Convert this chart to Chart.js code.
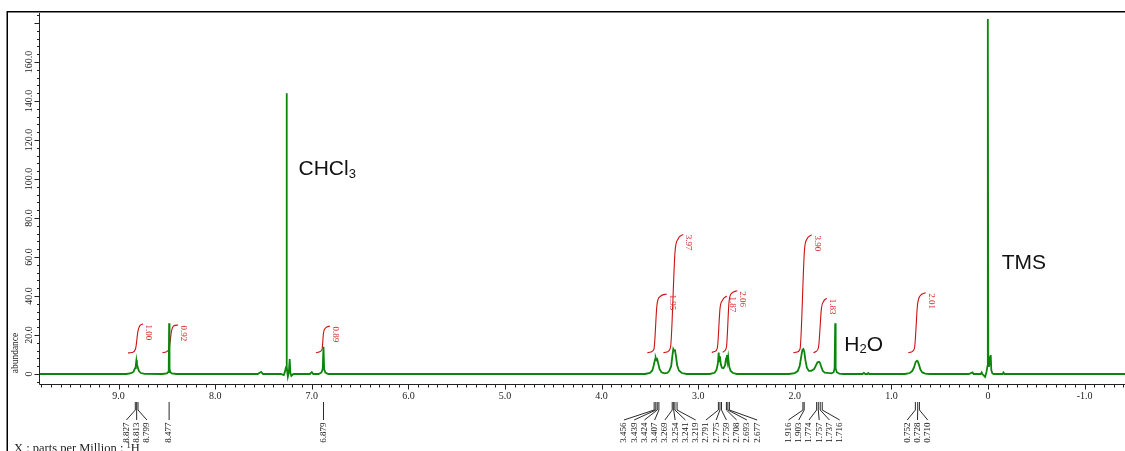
<!DOCTYPE html>
<html><head><meta charset="utf-8">
<script src="https://cdn.jsdelivr.net/npm/chart.js@4.4.1/dist/chart.umd.min.js"></script>
<style>html,body{margin:0;padding:0;background:#fff;overflow:hidden}canvas{display:block}</style>
</head><body>
<canvas id="c" width="1125" height="451"></canvas>
<script>
// ---- data ----
const xRange = [9.824, -1.418];           // ppm, left -> right
const yRange = [-5.13, 185.1];            // abundance
const xMajorTicks = [9, 8, 7, 6, 5, 4, 3, 2, 1, 0, -1];
const xTickLabels = ["9.0","8.0","7.0","6.0","5.0","4.0","3.0","2.0","1.0","0","-1.0"];
const yMajorTicks = [0, 20, 40, 60, 80, 100, 120, 140, 160];
const yTickLabels = ["0","20.0","40.0","60.0","80.0","100.0","120.0","140.0","160.0"];

// spectrum trace [ppm, abundance]
const spectrum = [
[9.82,0],[8.92,0],[8.87,0.4],[8.845,1.2],[8.83,3],[8.822,4.5],[8.816,7],[8.81,4.8],[8.80,3.2],[8.79,1.5],[8.77,0.5],[8.73,0.1],[8.55,0],
[8.50,0.3],[8.488,1],[8.481,3],[8.477,26],[8.473,3],[8.466,1],[8.45,0.3],[8.40,0],
[7.56,0],[7.525,1.1],[7.505,0],
[7.32,0],[7.29,-0.6],[7.278,1.2],[7.267,3.5],[7.262,144],[7.257,3.5],[7.248,-1.4],[7.238,0.8],[7.229,7.7],[7.222,0.6],[7.212,-1.0],[7.19,0],
[7.02,0],[7.0,1],[6.985,0],
[6.93,0],[6.90,0.8],[6.887,2.5],[6.879,14],[6.872,2.5],[6.86,0.7],[6.83,0],
[3.55,0],[3.50,0.6],[3.475,1.8],[3.46,4.5],[3.447,7.5],[3.44,8.4],[3.432,7.2],[3.424,7.6],[3.412,5],[3.40,2.5],[3.38,0.9],[3.35,0.3],
[3.32,0.6],[3.30,1.5],[3.28,4],[3.268,9],[3.258,12.8],[3.25,12],[3.242,12.6],[3.23,9],[3.218,4.5],[3.20,1.8],[3.17,0.5],[3.12,0],
[2.88,0],[2.83,0.6],[2.81,2.2],[2.796,5.5],[2.788,11],[2.782,6.5],[2.775,9],[2.766,5],[2.755,3.2],[2.738,3],
[2.722,4.5],[2.712,8],[2.703,9.7],[2.697,6.5],[2.69,8.8],[2.68,4],[2.665,1.6],[2.64,0.5],[2.60,0],
[2.06,0],[2.0,0.5],[1.97,1.5],[1.95,4],[1.935,8.5],[1.922,12.3],[1.912,12.8],[1.902,11.5],[1.89,7],[1.875,3.2],[1.855,1.6],
[1.83,1.6],[1.80,2.5],[1.78,4.5],[1.765,6],[1.75,6.3],[1.74,5.8],[1.725,3.5],[1.71,1.5],[1.69,0.7],
[1.62,0.3],[1.598,0.9],[1.588,3],[1.582,26],[1.577,3],[1.566,0.9],[1.54,0.2],[1.50,0],
[1.30,0],[1.285,0.6],[1.27,0],[1.25,0],[1.24,0.5],[1.23,0],
[0.86,0],[0.81,0.5],[0.785,1.5],[0.765,3.5],[0.75,6],[0.738,6.8],[0.728,6.6],[0.715,4.8],[0.70,2.3],[0.68,0.8],[0.65,0.2],[0.60,0],
[0.20,0],[0.16,0.8],[0.15,0],[0.075,0],[0.066,0.8],[0.058,0],[0.03,-1.5],[0.015,1.2],[0.006,4],[0.002,182],[-0.003,4],[-0.01,8],[-0.018,6.5],[-0.028,9.7],[-0.034,2],[-0.045,0.3],[-0.06,0],[-0.15,0],[-0.16,0.8],[-0.17,0],[-1.42,0]
];

// integral curves [ppm, abundance]
const integralCurves = [
[[8.903,10.8],[8.861,11.0],[8.825,12.8],[8.799,22.1],[8.778,24.9],[8.747,25.6]],
[[8.546,10.9],[8.509,11.3],[8.478,12.8],[8.452,22.1],[8.431,24.6],[8.385,25.1]],
[[6.957,10.9],[6.925,11.3],[6.894,12.6],[6.879,21.0],[6.858,23.6],[6.812,24.6]],
[[3.527,10.9],[3.489,11.3],[3.458,12.8],[3.427,35.4],[3.395,39.7],[3.326,41.0]],
[[3.361,10.9],[3.323,11.3],[3.287,13.6],[3.240,62.6],[3.209,69.2],[3.154,71.6]],
[[2.860,11.1],[2.831,11.5],[2.802,13.3],[2.774,33.8],[2.748,37.9],[2.705,40.0]],
[[2.746,11.1],[2.728,11.8],[2.707,14.1],[2.681,36.9],[2.655,41.3],[2.595,42.7]],
[[2.016,10.9],[1.977,11.3],[1.946,12.8],[1.900,63.6],[1.874,69.2],[1.825,71.3]],
[[1.808,10.9],[1.781,11.5],[1.755,13.6],[1.724,33.8],[1.703,37.2],[1.670,38.8]],
[[0.825,10.9],[0.792,11.3],[0.761,13.3],[0.730,35.4],[0.704,40.0],[0.645,41.7]]
];
const integralValues = ["1.00","0.92","0.89","1.95","3.97","1.87","2.06","3.90","1.83","2.01"];

// peak-pick labels (ppm), grouped as fanned on the plot
const peakGroups = [
["8.827","8.813","8.799"],
["8.477"],
["6.879"],
["3.456","3.439","3.424","3.407","3.269","3.254","3.241","3.219","2.791","2.775","2.759","2.708","2.693","2.677"],
["1.916","1.903","1.774","1.757","1.737","1.716"],
["0.752","0.728","0.710"]
];

// solvent / reference labels
const solventLabels = [
  {main:"CHCl", sub:"3", rest:"", ppm:7.138, val:102},
  {main:"H", sub:"2", rest:"O", ppm:1.488, val:11.8},
  {main:"TMS", sub:"", rest:"", ppm:-0.142, val:53.7}
];

// ---- styles ----
const GREEN = "#0b860b";
const RED = "#cc1111";
const SERIF = "'Liberation Serif', 'DejaVu Serif', serif";
const SANS = "'Liberation Sans', Arial, sans-serif";

const decor = {
  id: 'decor',
  afterDraw(chart) {
    const ctx = chart.ctx, xs = chart.scales.x, ys = chart.scales.y, ca = chart.chartArea;
    ctx.save();
    // frame
    ctx.strokeStyle = "#000"; ctx.lineWidth = 1.5;
    ctx.beginPath(); ctx.moveTo(7.25, 451); ctx.lineTo(7.25, 11.75); ctx.lineTo(1125, 11.75); ctx.stroke();
    // axes lines
    ctx.strokeStyle = "#222"; ctx.lineWidth = 1;
    const axY = ca.bottom + 0.5, axX = ca.left + 0.5;
    ctx.beginPath(); ctx.moveTo(axX, ca.top); ctx.lineTo(axX, axY); ctx.lineTo(ca.right, axY); ctx.stroke();
    // y ticks
    ctx.beginPath();
    for (let k = -1; k <= 46; k++) {
      const v = 4 * k; const py = Math.round(ys.getPixelForValue(v)) + 0.5;
      if (py < ca.top || py > ca.bottom + 1) continue;
      const len = (v % 20 === 0) ? 5 : 2.5;
      ctx.moveTo(axX, py); ctx.lineTo(axX - len, py);
    }
    // x ticks
    for (let k = -14; k <= 98; k++) {
      const px = Math.round(xs.getPixelForValue(k / 10)) + 0.5;
      if (px < ca.left || px > ca.right) continue;
      const len = (k % 10 === 0) ? 5 : 3;
      ctx.moveTo(px, axY); ctx.lineTo(px, axY + len);
    }
    ctx.stroke();
    // tick labels
    ctx.fillStyle = "#222"; ctx.font = "10px " + SERIF;
    ctx.textAlign = "center"; ctx.textBaseline = "middle";
    xMajorTicks.forEach((v, i) => ctx.fillText(xTickLabels[i], xs.getPixelForValue(v), 396.5));
    yMajorTicks.forEach((v, i) => {
      ctx.save(); ctx.translate(29.5, ys.getPixelForValue(v)); ctx.rotate(-Math.PI / 2);
      ctx.fillText(yTickLabels[i], 0, 0); ctx.restore();
    });
    // y title
    ctx.save(); ctx.translate(15, 353); ctx.rotate(-Math.PI / 2);
    ctx.font = "9.5px " + SERIF; ctx.fillText("abundance", 0, 0); ctx.restore();
    // x title
    ctx.textAlign = "left"; ctx.textBaseline = "alphabetic"; ctx.font = "12.5px " + SERIF;
    let tx = 14; const tb = 451.6;
    const t1 = "X : parts per Million : ";
    ctx.fillText(t1, tx, tb); tx += ctx.measureText(t1).width;
    ctx.font = "8.5px " + SERIF; ctx.fillText("1", tx, tb - 4); tx += ctx.measureText("1").width;
    ctx.font = "12.5px " + SERIF; ctx.fillText("H", tx, tb);
    // integral labels
    ctx.fillStyle = "#d42a2a"; ctx.font = "9px " + SERIF;
    ctx.textAlign = "left"; ctx.textBaseline = "middle";
    integralCurves.forEach((c, i) => {
      const last = c[c.length - 1];
      const px = xs.getPixelForValue(last[0]) + 5.5, py = ys.getPixelForValue(last[1]) + 0.5;
      ctx.save(); ctx.translate(px, py); ctx.rotate(Math.PI / 2);
      ctx.fillText(integralValues[i], 0, 0); ctx.restore();
    });
    // peak labels
    ctx.strokeStyle = "#111"; ctx.lineWidth = 0.9; ctx.fillStyle = "#111";
    ctx.font = "9px " + SERIF; ctx.textAlign = "right"; ctx.textBaseline = "middle";
    peakGroups.forEach(g => {
      const pxs = g.map(s => xs.getPixelForValue(parseFloat(s)));
      const mean = pxs.reduce((a, b) => a + b, 0) / pxs.length;
      g.forEach((s, i) => {
        const lx = mean + (i - (g.length - 1) / 2) * 10.25;
        ctx.beginPath(); ctx.moveTo(pxs[i], 402); ctx.lineTo(pxs[i], 410); ctx.lineTo(lx, 420); ctx.stroke();
        ctx.save(); ctx.translate(lx, 422.5); ctx.rotate(-Math.PI / 2);
        ctx.fillText(s, 0, 0); ctx.restore();
      });
    });
    // solvent labels
    ctx.fillStyle = "#111"; ctx.textAlign = "left"; ctx.textBaseline = "alphabetic";
    solventLabels.forEach(l => {
      let x = xs.getPixelForValue(l.ppm); const b = ys.getPixelForValue(l.val);
      ctx.font = "21px " + SANS; ctx.fillText(l.main, x, b); x += ctx.measureText(l.main).width;
      if (l.sub) { ctx.font = "13px " + SANS; ctx.fillText(l.sub, x, b + 2.5); x += ctx.measureText(l.sub).width; }
      if (l.rest) { ctx.font = "21px " + SANS; ctx.fillText(l.rest, x, b); }
    });
    ctx.restore();
  }
};

const datasets = [{
  data: spectrum.map(p => ({x: p[0], y: p[1]})),
  borderColor: GREEN, borderWidth: 1.8, pointRadius: 0, tension: 0, fill: false
}].concat(integralCurves.map(c => ({
  data: c.map(p => ({x: p[0], y: p[1]})),
  borderColor: RED, borderWidth: 1.1, pointRadius: 0, cubicInterpolationMode: 'monotone', fill: false
})));

new Chart(document.getElementById('c').getContext('2d'), {
  type: 'line',
  data: {datasets},
  options: {
    responsive: false, animation: false, devicePixelRatio: 1,
    layout: {padding: {left: 39, top: 13, right: 0, bottom: 67}},
    scales: {
      x: {type: 'linear', reverse: true, min: xRange[1], max: xRange[0], display: false},
      y: {type: 'linear', min: yRange[0], max: yRange[1], display: false}
    },
    plugins: {legend: {display: false}, tooltip: {enabled: false}}
  },
  plugins: [decor]
});
</script>
</body></html>
